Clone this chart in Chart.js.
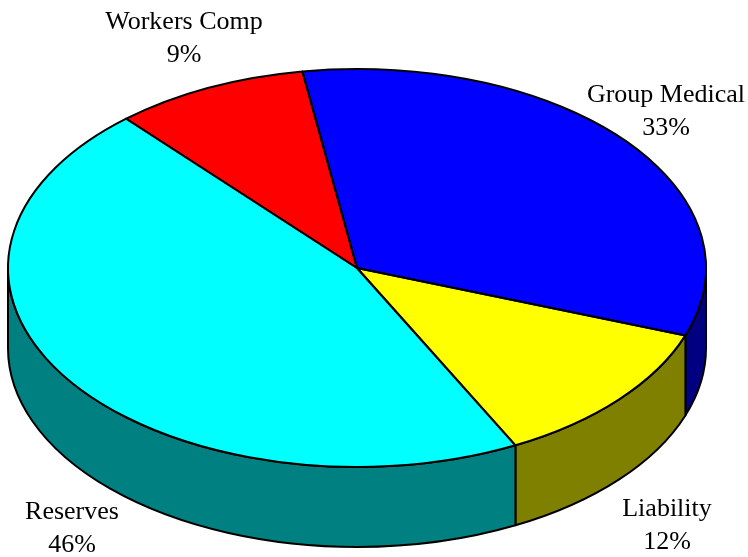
<!DOCTYPE html>
<html>
<head>
<meta charset="utf-8">
<script src="https://cdn.jsdelivr.net/npm/chart.js@4.4.0/dist/chart.umd.min.js"></script>
<style>
  html, body { margin: 0; padding: 0; background: #fff; }
  #wrap { width: 748px; height: 557px; }
</style>
</head>
<body>
<div id="wrap"><canvas id="pie"></canvas></div>
<script>
// data
const categories = ['Group Medical', 'Liability', 'Reserves', 'Workers Comp'];
const shares = [33, 12, 46, 9];
const topColors = ['#0000FF', '#FFFF00', '#00FFFF', '#FF0000'];
const sideColors = ['#000080', '#808000', '#008080', '#800000'];

Chart.defaults.font.family = 'Liberation Serif';

// squash the round pie into an ellipse and give it a side wall
const pie3d = {
    id: 'pie3d',
    geom(chart) {
        const arc = chart.getDatasetMeta(0).data[0];
        const a = chart.chartArea;
        return {
            ox: arc.x, oy: arc.y, R: arc.outerRadius,
            cx: (a.left + a.right) / 2, cy: (a.top + a.bottom) / 2,
            rx: a.width / 2, ry: a.height / 2
        };
    },
    beforeDatasetsDraw(chart, args, opts) {
        const { ctx } = chart;
        const g = this.geom(chart);
        const d = opts.depth;
        const arcs = chart.getDatasetMeta(0).data;

        // side walls, only the front half (0..PI) is visible
        arcs.forEach((el, i) => {
            let s = el.startAngle, e = el.endAngle;
            const TAU = Math.PI * 2;
            while (s < 0) { s += TAU; e += TAU; }
            while (s >= TAU) { s -= TAU; e -= TAU; }
            [[0, Math.PI], [TAU, TAU + Math.PI]].forEach(([lo, hi]) => {
                const a1 = Math.max(s, lo), a2 = Math.min(e, hi);
                if (a2 <= a1) return;
                ctx.save();
                ctx.beginPath();
                ctx.ellipse(g.cx, g.cy, g.rx, g.ry, 0, a1, a2);
                ctx.lineTo(g.cx + g.rx * Math.cos(a2), g.cy + d + g.ry * Math.sin(a2));
                ctx.ellipse(g.cx, g.cy + d, g.rx, g.ry, 0, a2, a1, true);
                ctx.closePath();
                ctx.fillStyle = sideColors[i];
                ctx.fill();
                ctx.lineWidth = opts.lineWidth;
                ctx.lineJoin = 'round';
                ctx.strokeStyle = '#000';
                ctx.stroke();
                ctx.restore();
            });
        });

        ctx.save();
        ctx.translate(g.cx, g.cy);
        ctx.scale(g.rx / g.R, g.ry / g.R);
        ctx.translate(-g.ox, -g.oy);
    },
    afterDatasetsDraw(chart, args, opts) {
        const { ctx } = chart;
        ctx.restore();
        const g = this.geom(chart);
        const arcs = chart.getDatasetMeta(0).data;

        // outlines of the top face
        ctx.save();
        ctx.lineWidth = opts.lineWidth;
        ctx.lineJoin = 'round';
        ctx.strokeStyle = '#000';
        arcs.forEach(el => {
            ctx.beginPath();
            ctx.moveTo(g.cx, g.cy);
            ctx.ellipse(g.cx, g.cy, g.rx, g.ry, 0, el.startAngle, el.endAngle);
            ctx.closePath();
            ctx.stroke();
        });

        // category labels
        ctx.fillStyle = '#000';
        ctx.font = opts.font;
        ctx.textAlign = 'center';
        ctx.textBaseline = 'alphabetic';
        arcs.forEach((el, i) => {
            const [x, y] = opts.labelPos[i];
            ctx.fillText(categories[i], x, y);
            ctx.fillText(shares[i] + '%', x, y + opts.lineGap);
        });
        ctx.restore();
    }
};

new Chart(document.getElementById('pie'), {
    type: 'pie',
    data: {
        labels: categories,
        datasets: [{
            data: shares,
            backgroundColor: topColors,
            borderWidth: 0,
            hoverOffset: 0
        }]
    },
    options: {
        responsive: true,
        maintainAspectRatio: false,
        animation: false,
        rotation: -9,
        layout: { padding: { left: 8, right: 42, top: 69, bottom: 90 } },
        events: [],
        plugins: {
            legend: { display: false },
            tooltip: { enabled: false },
            pie3d: {
                depth: 80,
                lineWidth: 2,
                font: '26px "Liberation Serif"',
                lineGap: 33,
                labelPos: [[666, 102], [667, 516], [72, 519], [184, 29]]
            }
        }
    },
    plugins: [pie3d]
});
</script>
</body>
</html>
